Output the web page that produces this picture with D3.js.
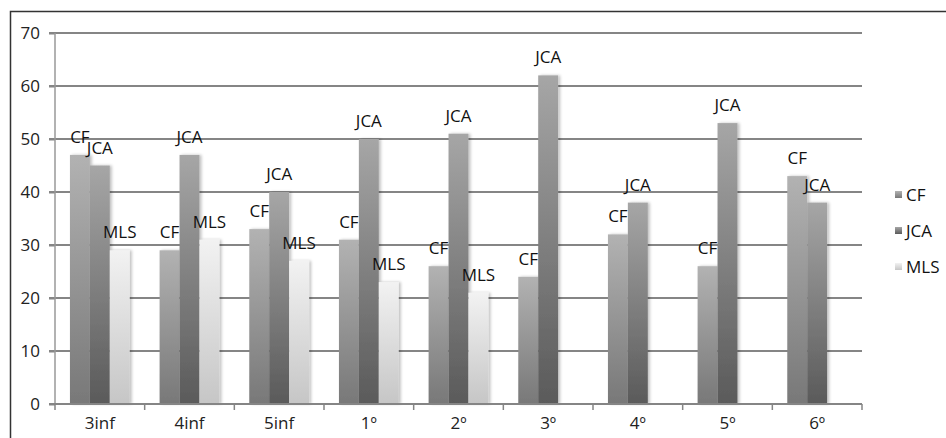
<!DOCTYPE html>
<html><head><meta charset="utf-8">
<script src="https://cdn.jsdelivr.net/npm/d3@7"></script>
<style>body{margin:0;background:#fff}svg{display:block;font-family:"Open Sans",sans-serif}</style>
</head><body>
<svg id="c" width="946" height="438"></svg>
<script>
const categories = ["3inf","4inf","5inf","1º","2º","3º","4º","5º","6º"];
const seriesNames = ["CF","JCA","MLS"];
const CF  = [47,29,33,31,26,24,32,26,43];
const JCA = [45,47,40,50,51,62,38,53,38];
const MLS = [29,31,27,23,21,null,null,null,null];
const yTicks = [0,10,20,30,40,50,60,70];

const seriesValues = [CF,JCA,MLS];
const FS = 17;
const svg = d3.select("#c");
const defs = svg.append("defs");
const grads = [["#b2b2b2","#787878"],["#a6a6a6","#5a5a5a"],["#f2f2f2","#c6c6c6"]];
grads.forEach((g,i)=>{
  const lg = defs.append("linearGradient").attr("id","g"+i).attr("x1",0).attr("y1",0).attr("x2",0).attr("y2",1);
  lg.append("stop").attr("offset","0%").attr("stop-color",g[0]);
  lg.append("stop").attr("offset","100%").attr("stop-color",g[1]);
});
const f = defs.append("filter").attr("id","sh").attr("x","-20%").attr("y","-5%").attr("width","160%").attr("height","110%");
f.append("feGaussianBlur").attr("in","SourceAlpha").attr("stdDeviation",1.5).attr("result","b");
f.append("feOffset").attr("in","b").attr("dx",2).attr("dy",0).attr("result","o");
f.append("feComponentTransfer").attr("in","o").attr("result","o2").append("feFuncA").attr("type","linear").attr("slope",0.25);
const fm = f.append("feMerge"); fm.append("feMergeNode").attr("in","o2"); fm.append("feMergeNode").attr("in","SourceGraphic");

// frame
svg.append("path").attr("d","M10.5,440 V11.5 H950").attr("fill","none").attr("stroke","#333").attr("stroke-width",1.5);

const x = d3.scaleBand().domain(categories).range([55,862]);
const y = d3.scaleLinear().domain([0,70]).range([404,33]);

// gridlines
svg.append("g").selectAll("line").data(yTicks.filter(d=>d>0)).join("line")
  .attr("x1",49).attr("x2",862).attr("y1",d=>y(d)).attr("y2",d=>y(d))
  .attr("stroke","#858585").attr("stroke-width",2);

// y axis
const ya = svg.append("g").attr("transform","translate(55,0)").call(d3.axisLeft(y).tickValues(yTicks).tickSize(6).tickPadding(9));
ya.select(".domain").remove();
ya.selectAll(".tick line").attr("stroke","#858585").attr("stroke-width",2);
ya.selectAll("text").style("font-size",FS+"px").attr("fill","#222").style("font-family","'Open Sans',sans-serif");
svg.append("line").attr("x1",55).attr("x2",55).attr("y1",33).attr("y2",404).attr("stroke","#999").attr("stroke-width",1.5);

// bars
const groups = svg.append("g").selectAll("g").data(categories).join("g").attr("transform",d=>`translate(${x(d)},0)`);
const w = x.bandwidth()*2/9;
const off = x.bandwidth()/6;
seriesValues.forEach((vals,si)=>{
  groups.filter((d,i)=>vals[i]!=null).append("rect")
    .attr("x",off + si*w).attr("width",w)
    .attr("y",(d)=>y(vals[categories.indexOf(d)]))
    .attr("height",(d)=>y(0)-y(vals[categories.indexOf(d)]))
    .attr("fill",`url(#g${si})`).attr("filter","url(#sh)");
});
seriesValues.forEach((vals,si)=>{
  groups.filter((d,i)=>vals[i]!=null).append("text")
    .attr("x",off + si*w + w/2).attr("y",(d)=>y(vals[categories.indexOf(d)])-12)
    .attr("text-anchor","middle").style("font-size",FS+"px").attr("fill","#111")
    .text(seriesNames[si]);
});

// x axis
svg.append("line").attr("x1",49).attr("x2",862).attr("y1",404).attr("y2",404).attr("stroke","#858585").attr("stroke-width",2);
const xa = svg.append("g").attr("transform","translate(0,404)").call(d3.axisBottom(x).tickSize(0).tickPadding(13));
xa.select(".domain").remove();
xa.selectAll("text").style("font-size",FS+"px").attr("fill","#222").style("font-family","'Open Sans',sans-serif");
svg.append("g").selectAll("line").data(categories.map(c=>x(c)).concat([862])).join("line")
  .attr("x1",d=>d).attr("x2",d=>d).attr("y1",404).attr("y2",410).attr("stroke","#858585").attr("stroke-width",1.5);

// legend
const lg = svg.append("g").selectAll("g").data(seriesNames).join("g").attr("transform",(d,i)=>`translate(895,${195+i*36})`);
lg.append("rect").attr("x",0).attr("y",-4).attr("width",7).attr("height",7).attr("fill",(d,i)=>`url(#g${i})`);
lg.append("text").attr("x",11).attr("y",6).style("font-size",FS+"px").attr("fill","#111").text(d=>d);
</script>
</body></html>
